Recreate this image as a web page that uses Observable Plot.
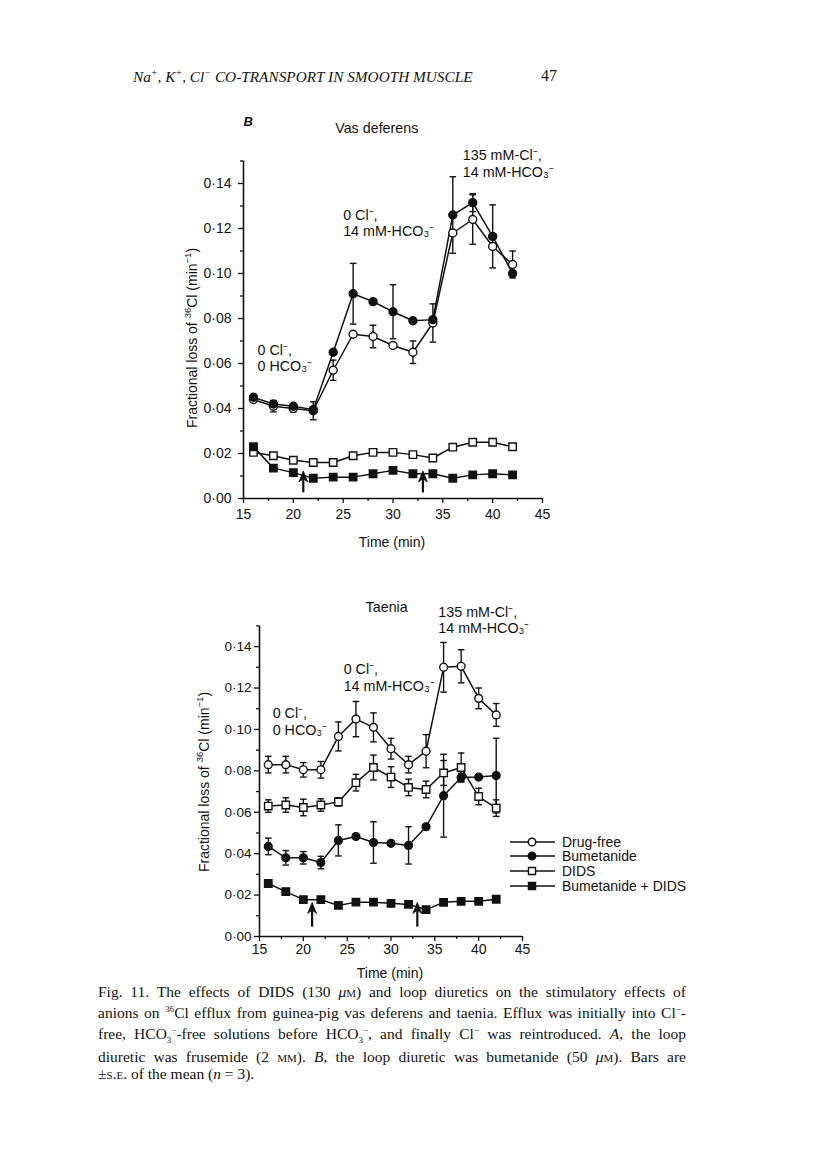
<!DOCTYPE html>
<html>
<head>
<meta charset="utf-8">
<script src="https://cdn.jsdelivr.net/npm/d3@7"></script>
<script src="https://cdn.jsdelivr.net/npm/@observablehq/plot@0.6"></script>
<style>
  body { margin: 0; background: #fff; }
  #page { position: relative; width: 816px; height: 1160px; overflow: hidden; background: #fff; color: #111;
          font-family: "Liberation Sans", Arial, Helvetica, sans-serif; }
  .abs { position: absolute; white-space: nowrap; }
  .serif { font-family: "Liberation Serif", "DejaVu Serif", "Times New Roman", serif; }
  .ylab { transform: translate(-50%, -50%) rotate(-90deg); font-size: 14px; }
  .xlab { transform: translate(-50%, -50%); font-size: 14px; }
  .cap { position: absolute; left: 98px; width: 588px; font-size: 15.5px; line-height: 16.8px; white-space: nowrap; }
  .cap div { text-align: justify; text-align-last: justify; }
  .cap div.last { text-align-last: left; }
  .sc { font-variant: small-caps; }
  .plot { position: absolute; }
</style>
</head>
<body>
<div id="page">
  <div class="abs serif" style="left:133px; top:67px; font-size:15.3px; font-style:italic;">Na<sup style="font-size:10px">+</sup>, K<sup style="font-size:10px">+</sup>, Cl<sup style="font-size:10px">−</sup> CO-TRANSPORT IN SMOOTH MUSCLE</div>
  <div class="abs serif" style="left:541px; top:67px; font-size:16px;">47</div>

  <div class="abs ylab" style="left:191px; top:338px;">Fractional loss of <sup style="font-size:9.5px">36</sup>Cl (min<sup style="font-size:9.5px">−1</sup>)</div>
  <div class="abs xlab" style="left:392px; top:542px;">Time (min)</div>

  <div class="abs ylab" style="left:203px; top:782px;">Fractional loss of <sup style="font-size:9.5px">36</sup>Cl (min<sup style="font-size:9.5px">−1</sup>)</div>
  <div class="abs xlab" style="left:390px; top:973px;">Time (min)</div>

  <div class="cap serif" style="top:984px;">
    <div>Fig. 11. The effects of DIDS (130 <i>μ</i><span class="sc">m</span>) and loop diuretics on the stimulatory effects of</div>
    <div>anions on <sup style="font-size:9px">36</sup>Cl efflux from guinea-pig vas deferens and taenia. Efflux was initially into Cl<sup style="font-size:9px">−</sup>-</div>
    <div>free, HCO<sub style="font-size:9px">3</sub><sup style="font-size:9px">−</sup>-free solutions before HCO<sub style="font-size:9px">3</sub><sup style="font-size:9px">−</sup>, and finally Cl<sup style="font-size:9px">−</sup> was reintroduced. <i>A</i>, the loop</div>
    <div>diuretic was frusemide (2 <span class="sc">mm</span>). <i>B</i>, the loop diuretic was bumetanide (50 <i>μ</i><span class="sc">m</span>). Bars are</div>
    <div class="last">±<span class="sc">s.e.</span> of the mean (<i>n</i> = 3).</div>
  </div>
</div>
<script>
// ---------- data ----------
const times = [16, 18, 20, 22, 24, 26, 28, 30, 32, 34, 36, 38, 40, 42];
const seriesNames = ["Drug-free", "Bumetanide", "DIDS", "Bumetanide + DIDS"];

// Vas deferens (panel B, top)
const vdDrugFree      = [0.044, 0.041, 0.040, 0.039, 0.057, 0.073, 0.072, 0.068, 0.065, 0.078, 0.118, 0.124, 0.112, 0.104];
const vdDrugFreeSE    = [0.001, 0.0025, 0.0015, 0.004, 0.0045, 0, 0.005, 0, 0.005, 0.0085, 0, 0.011, 0, 0.006];
const vdBumetanide    = [0.045, 0.042, 0.041, 0.0395, 0.065, 0.091, 0.0875, 0.083, 0.079, 0.0795, 0.126, 0.1315, 0.1165, 0.100];
const vdBumetanideSE  = [0, 0, 0, 0, 0, 0.0135, 0, 0.012, 0, 0, 0.017, 0.004, 0.014, 0];
const vdDIDS          = [0.0205, 0.019, 0.017, 0.016, 0.016, 0.019, 0.0205, 0.0205, 0.0195, 0.018, 0.0228, 0.025, 0.025, 0.023];
const vdBumDIDS       = [0.023, 0.0135, 0.0115, 0.009, 0.0095, 0.0095, 0.011, 0.0125, 0.011, 0.011, 0.009, 0.0105, 0.011, 0.0105];

// Taenia (bottom)
const tDrugFree       = [0.083, 0.083, 0.0805, 0.0805, 0.0966, 0.105, 0.101, 0.0907, 0.083, 0.0895, 0.130, 0.1305, 0.115, 0.107];
const tDrugFreeSE     = [0.004, 0.004, 0.0035, 0.004, 0.007, 0.0085, 0.007, 0.005, 0.004, 0.008, 0.012, 0.008, 0.005, 0.0055];
const tBumetanide     = [0.0435, 0.038, 0.038, 0.0357, 0.0464, 0.0483, 0.0454, 0.045, 0.044, 0.053, 0.068, 0.0768, 0.077, 0.0777];
const tBumetanideSE   = [0.004, 0.0035, 0.003, 0.003, 0.0075, 0, 0.010, 0, 0.009, 0, 0.020, 0.002, 0, 0.018];
const tDIDS           = [0.063, 0.0635, 0.0623, 0.0635, 0.065, 0.0743, 0.0816, 0.077, 0.072, 0.071, 0.079, 0.0816, 0.0676, 0.062];
const tDIDSSE         = [0.003, 0.0035, 0.004, 0.003, 0.002, 0.004, 0.006, 0.005, 0.004, 0.004, 0.006, 0.007, 0.004, 0.004];
const tBumDIDS        = [0.0256, 0.0217, 0.0178, 0.0178, 0.015, 0.0166, 0.0166, 0.016, 0.0155, 0.013, 0.0165, 0.017, 0.017, 0.018];

// solution-change arrows (time, tail, tip)
const arrowTimes = [21, 33];
const vdArrowTail = 0.0025, vdArrowTip = 0.0098;
const tArrowTail = 0.0045, tArrowTip = 0.0138;

// axis ticks
const xMajor = [15, 20, 25, 30, 35, 40, 45];
const xMinor = [17.5, 22.5, 27.5, 32.5, 37.5, 42.5];
const yMajor = [0, 0.02, 0.04, 0.06, 0.08, 0.10, 0.12, 0.14];
const yMinor = [0.01, 0.03, 0.05, 0.07, 0.09, 0.11, 0.13, 0.15];

// annotations
const vdNotes = [
  {x: 15.0, y: 0.1695, text: "B", italic: true, bold: true},
  {x: 24.2, y: 0.1678, text: "Vas deferens"},
  {x: 16.4, y: 0.0690, text: "0 Cl⁻,\n0 HCO₃⁻"},
  {x: 25.0, y: 0.1290, text: "0 Cl⁻,\n14 mM-HCO₃⁻"},
  {x: 37.0, y: 0.1555, text: "135 mM-Cl⁻,\n14 mM-HCO₃⁻"}
];
const tNotes = [
  {x: 27.1, y: 0.1625, text: "Taenia"},
  {x: 35.4, y: 0.1600, text: "135 mM-Cl⁻,\n14 mM-HCO₃⁻"},
  {x: 24.6, y: 0.1322, text: "0 Cl⁻,\n14 mM-HCO₃⁻"},
  {x: 16.5, y: 0.1110, text: "0 Cl⁻,\n0 HCO₃⁻"}
];

// ---------- drawing ----------
const ink = "#111";
const fmt = d => d.toFixed(2).replace(".", "·");
const capSymbol = { draw(ctx, size) { const r = Math.sqrt(size / Math.PI); ctx.moveTo(-r, 0); ctx.lineTo(r, 0); } };
const arrowHead = { draw(ctx, size) { const r = Math.sqrt(size / Math.PI); ctx.moveTo(0, -r); ctx.lineTo(r * 0.8, r); ctx.lineTo(0, r * 0.4); ctx.lineTo(-r * 0.8, r); ctx.closePath(); } };
const styles = {
  "Drug-free": {symbol: "circle", fill: "white"},
  "Bumetanide": {symbol: "circle", fill: ink},
  "DIDS": {symbol: "square", fill: "white"},
  "Bumetanide + DIDS": {symbol: "square", fill: ink}
};

function panel(cfg) {
  const rows = cfg.series.flatMap(s => times.map((t, i) => ({series: s.name, t, v: s.values[i], e: s.se ? s.se[i] : 0})));
  const bars = rows.filter(d => d.e > 0);
  const caps = bars.flatMap(d => [{t: d.t, v: d.v - d.e}, {t: d.t, v: d.v + d.e}]);
  const arrows = arrowTimes.map(t => ({t, tail: cfg.arrowTail, tip: cfg.arrowTip}));
  const p = Plot.plot({
    width: cfg.width, height: cfg.height,
    marginLeft: cfg.ml, marginRight: cfg.mr, marginTop: cfg.mt, marginBottom: cfg.mb,
    style: {background: "transparent", overflow: "visible", fontFamily: '"Liberation Sans", Arial, sans-serif', color: ink},
    x: {domain: [15, 45], label: null},
    y: {domain: [0, 0.15], label: null},
    marks: [
      Plot.ruleX([15], {y1: 0, y2: 0.15, stroke: ink, strokeWidth: 1.6}),
      Plot.ruleY([0], {stroke: ink, strokeWidth: 1.6}),
      Plot.axisY({ticks: yMinor, tickSize: 3, tickFormat: () => "", label: null, stroke: ink, strokeWidth: 1.3}),
      Plot.axisY({ticks: yMajor, tickSize: 5, tickPadding: cfg.yPad, tickFormat: fmt, label: null, fontSize: cfg.tickFont, stroke: ink, strokeWidth: 1.3, fill: ink}),
      Plot.axisX({ticks: xMinor, tickSize: 3, tickFormat: () => "", label: null, stroke: ink, strokeWidth: 1.3}),
      Plot.axisX({ticks: xMajor, tickSize: 5, tickPadding: cfg.xPad, tickFormat: d => String(d), label: null, fontSize: cfg.xTickFont, stroke: ink, strokeWidth: 1.3, fill: ink}),
      Plot.line(rows, {x: "t", y: "v", z: "series", stroke: ink, strokeWidth: 1.5}),
      Plot.ruleX(bars, {x: "t", y1: d => d.v - d.e, y2: d => d.v + d.e, stroke: ink, strokeWidth: 1.4}),
      Plot.dot(caps, {x: "t", y: "v", symbol: capSymbol, r: 3.3, stroke: ink, strokeWidth: 1.4}),
      ...cfg.series.map(s => Plot.dot(rows.filter(d => d.series === s.name), {
        x: "t", y: "v", symbol: styles[s.name].symbol,
        r: styles[s.name].symbol === "square" ? cfg.sqR : cfg.cR,
        fill: styles[s.name].fill, stroke: ink, strokeWidth: 1.4
      })),
      Plot.ruleX(arrows, {x: "t", y1: "tail", y2: "tip", stroke: ink, strokeWidth: 2.2}),
      Plot.dot(arrows, {x: "t", y: "tip", symbol: arrowHead, r: 5.5, fill: ink, stroke: ink, strokeWidth: 0.8}),
      Plot.text(cfg.notes.filter(d => !d.italic), {x: "x", y: "y", text: "text", textAnchor: "start", lineAnchor: "top", fontSize: 14.3, lineHeight: 1.15, fill: ink}),
      Plot.text(cfg.notes.filter(d => d.italic), {x: "x", y: "y", text: "text", textAnchor: "start", lineAnchor: "top", fontSize: 13, fontStyle: "italic", fontWeight: "bold", fill: ink})
    ]
  });
  p.classList.add("plot");
  p.style.left = cfg.left + "px";
  p.style.top = cfg.top + "px";
  document.getElementById("page").appendChild(p);
}

panel({
  left: 150, top: 100, width: 420, height: 460, ml: 93, mr: 28, mt: 60.5, mb: 62,
  yPad: 7, xPad: 6, tickFont: 14, xTickFont: 14, cR: 4, sqR: 4.2,
  arrowTail: vdArrowTail, arrowTip: vdArrowTip, notes: vdNotes,
  series: [
    {name: "Drug-free", values: vdDrugFree, se: vdDrugFreeSE},
    {name: "Bumetanide", values: vdBumetanide, se: vdBumetanideSE},
    {name: "DIDS", values: vdDIDS},
    {name: "Bumetanide + DIDS", values: vdBumDIDS}
  ]
});

panel({
  left: 160, top: 590, width: 400, height: 400, ml: 99, mr: 38, mt: 35.4, mb: 54,
  yPad: 3, xPad: 3, tickFont: 13.5, xTickFont: 14, cR: 3.9, sqR: 4.2,
  arrowTail: tArrowTail, arrowTip: tArrowTip, notes: tNotes,
  series: [
    {name: "Drug-free", values: tDrugFree, se: tDrugFreeSE},
    {name: "Bumetanide", values: tBumetanide, se: tBumetanideSE},
    {name: "DIDS", values: tDIDS, se: tDIDSSE},
    {name: "Bumetanide + DIDS", values: tBumDIDS}
  ]
});

// legend (taenia panel)
(function legend() {
  const svg = d3.create("svg").attr("width", 200).attr("height", 70)
    .attr("class", "plot").style("left", "505px").style("top", "830px")
    .style("font-family", '"Liberation Sans", Arial, sans-serif');
  const rowsY = [12, 26, 41, 56];
  seriesNames.forEach((name, i) => {
    const g = svg.append("g").attr("transform", `translate(0,${rowsY[i]})`);
    g.append("line").attr("x1", 5).attr("x2", 50).attr("y1", 0).attr("y2", 0).attr("stroke", ink).attr("stroke-width", 1.5);
    const st = styles[name];
    const sym = st.symbol === "square" ? d3.symbolSquare : d3.symbolCircle;
    const r = st.symbol === "square" ? 4.0 : 3.8;
    g.append("path").attr("transform", "translate(27,0)")
      .attr("d", d3.symbol(sym, r * r * Math.PI)())
      .attr("fill", st.fill).attr("stroke", ink).attr("stroke-width", 1.4);
    g.append("text").attr("x", 57).attr("y", 0).attr("dy", "0.35em").attr("font-size", 14).attr("fill", ink).text(name);
  });
  document.getElementById("page").appendChild(svg.node());
})();
</script>
</body>
</html>
